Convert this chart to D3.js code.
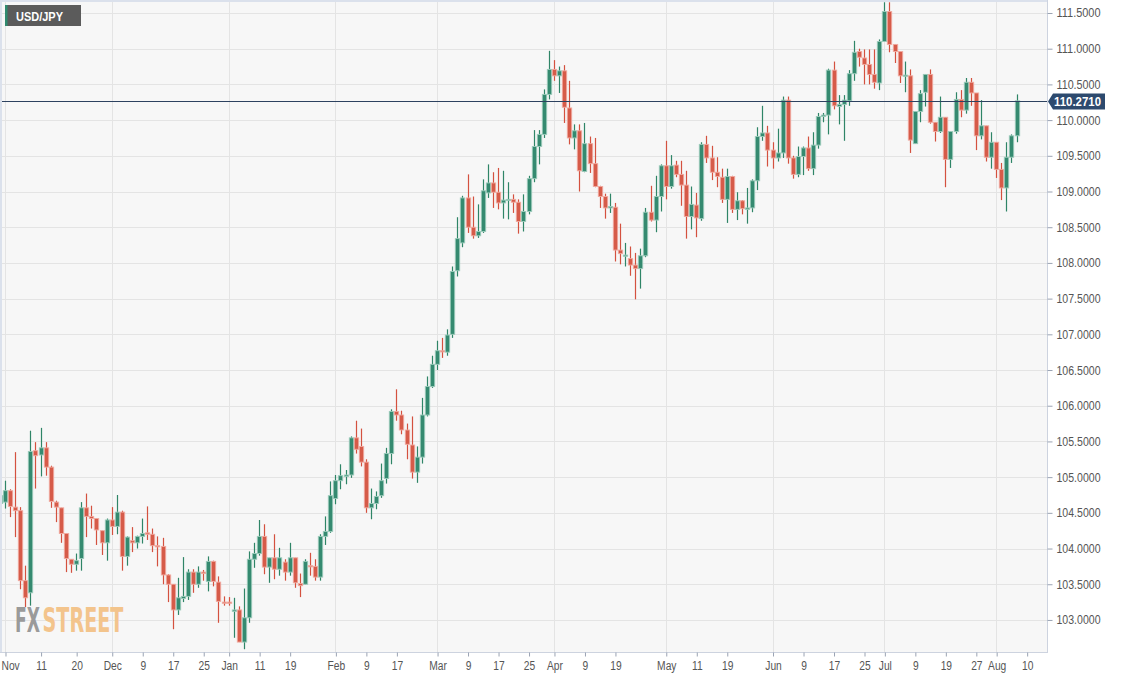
<!DOCTYPE html>
<html><head><meta charset="utf-8">
<script src="https://cdn.jsdelivr.net/npm/d3@7"></script>
<style>html,body{margin:0;padding:0;background:#fff;overflow:hidden}svg{display:block;font-family:"Liberation Sans",Arial,sans-serif}</style>
</head><body><svg id="c" width="1124" height="677"></svg>
<script>
// daily candles, trading-day index starting at firstIndex (-1 = 30 Oct 2020, 0 = 2 Nov 2020)
const firstIndex = -1;
const openV = [104.63,104.65,104.81,104.58,104.53,103.55,103.38,105.37,105.31,105.41,105.14,104.65,104.57,104.21,103.85,103.78,103.86,104.57,104.45,104.42,104.25,104.08,104.40,104.31,104.51,103.89,104.11,104.08,104.17,104.22,104.20,104.04,104.03,103.63,103.50,103.14,103.30,103.33,103.67,103.50,103.67,103.54,103.82,103.53,103.25,103.25,103.12,103.14,102.69,103.03,103.85,103.93,104.17,103.74,103.87,103.71,103.81,103.67,103.87,103.51,103.50,103.76,103.75,103.60,104.17,104.24,104.70,104.95,105.01,105.03,105.55,105.43,105.21,104.57,104.63,104.74,104.98,105.33,105.92,105.87,105.66,105.45,105.07,105.28,105.87,106.27,106.58,106.77,106.75,107.00,107.89,108.28,108.91,108.50,108.38,108.44,108.98,109.12,108.99,108.84,108.88,108.89,108.85,108.58,108.72,109.18,109.63,109.80,110.36,110.71,110.62,110.69,110.17,109.75,109.85,109.28,109.67,109.39,109.07,108.93,108.77,108.78,108.18,108.10,108.06,107.97,107.92,108.10,108.71,108.60,108.93,109.36,109.07,109.37,109.24,109.09,108.65,108.81,108.62,109.66,109.47,109.27,109.20,108.89,109.21,108.75,108.87,108.75,108.77,109.15,109.77,109.82,109.58,109.47,109.54,110.28,109.47,109.24,109.49,109.61,109.32,109.65,110.05,110.07,110.70,110.19,110.22,110.27,110.65,110.96,110.87,110.78,110.64,110.52,111.10,111.52,111.06,110.96,110.62,110.62,109.67,110.12,110.39,110.64,109.97,109.84,110.04,109.45,109.84,110.29,110.14,110.53,110.38,109.78,109.92,109.48,109.69,109.31,109.05,109.48,109.78];
const highV = [104.80,104.95,104.83,105.35,104.58,103.76,105.65,105.49,105.69,105.49,105.16,104.67,104.57,104.21,103.85,103.93,104.65,104.77,104.60,104.42,104.25,104.42,104.58,104.75,104.53,104.17,104.30,104.18,104.42,104.59,104.28,104.17,104.15,103.64,103.50,103.59,103.88,103.71,103.71,103.75,103.70,103.89,103.83,103.61,103.33,103.32,103.31,103.19,103.44,103.96,104.08,104.40,104.34,103.87,104.20,104.01,103.85,104.08,103.87,103.65,103.85,103.94,103.85,104.20,104.45,104.94,105.03,105.18,105.10,105.57,105.79,105.68,105.25,104.84,104.80,105.19,105.41,105.95,106.23,105.93,105.75,105.85,105.43,106.11,106.41,106.70,106.91,106.95,107.07,107.95,108.64,108.94,109.24,108.93,108.82,109.17,109.38,109.27,109.33,109.29,109.13,108.96,108.89,108.96,109.22,109.86,109.86,110.43,110.97,110.84,110.75,110.77,110.55,109.94,109.94,109.96,109.77,109.75,109.08,108.97,108.97,108.84,108.55,108.28,108.23,108.14,108.20,108.77,109.08,109.22,109.38,109.71,109.51,109.43,109.43,109.29,109.07,108.98,109.69,109.78,109.64,109.48,109.32,109.32,109.22,108.99,108.88,109.05,109.17,109.90,110.20,109.92,109.69,109.88,110.33,110.33,109.50,109.63,109.63,109.77,109.83,110.10,110.10,110.72,110.82,110.35,110.35,110.70,111.11,111.00,110.99,110.99,110.99,111.13,111.65,111.65,111.06,110.96,110.82,110.71,110.12,110.42,110.64,110.71,109.97,110.33,110.04,109.84,110.39,110.42,110.59,110.59,110.38,110.28,109.92,109.83,109.69,109.40,109.69,109.80,110.36];
const lowV = [104.14,104.56,104.44,104.16,103.43,103.18,103.20,104.84,105.01,105.02,104.57,104.37,104.08,103.67,103.66,103.69,103.69,104.16,104.28,104.05,103.91,103.83,104.19,104.20,103.69,103.76,103.95,104.00,104.07,104.12,103.95,103.75,103.50,103.25,102.87,103.07,103.25,103.28,103.38,103.45,103.55,103.40,103.47,102.96,103.20,103.20,102.75,102.69,102.59,102.96,103.73,103.90,103.64,103.52,103.57,103.62,103.55,103.62,103.45,103.32,103.50,103.62,103.55,103.55,104.05,104.22,104.62,104.83,104.90,104.99,105.33,105.15,104.50,104.41,104.55,104.71,104.91,105.18,105.79,105.60,105.25,104.98,104.92,105.19,105.85,106.25,106.50,106.67,106.70,106.95,107.81,108.22,108.42,108.34,108.35,108.42,108.91,108.77,108.75,108.62,108.61,108.70,108.41,108.44,108.68,109.13,109.38,109.75,110.29,110.55,110.38,109.96,109.66,109.59,109.00,109.27,109.26,109.06,108.77,108.62,108.70,108.02,107.98,107.95,107.82,107.49,107.64,108.08,108.58,108.43,108.72,108.89,109.04,109.20,108.80,108.34,108.47,108.36,108.59,109.40,109.16,109.06,108.84,108.56,108.70,108.60,108.68,108.55,108.71,109.02,109.71,109.35,109.32,109.42,109.47,109.39,109.18,109.20,109.23,109.29,109.23,109.60,109.97,109.80,110.15,109.94,109.71,110.20,110.55,110.75,110.50,110.50,110.44,110.42,111.10,110.95,110.80,110.52,110.39,109.54,109.67,109.97,110.19,109.95,109.70,109.82,109.06,109.33,109.81,110.04,110.09,110.20,109.58,109.73,109.42,109.32,109.19,108.88,108.72,109.40,109.69];
const closeV = [104.74,104.81,104.59,104.53,103.55,103.31,105.36,105.30,105.41,105.14,104.66,104.58,104.21,103.86,103.78,103.83,104.57,104.45,104.42,104.26,104.08,104.40,104.31,104.51,103.89,104.16,104.08,104.17,104.21,104.20,104.04,104.03,103.63,103.50,103.14,103.31,103.33,103.67,103.50,103.67,103.65,103.82,103.54,103.26,103.24,103.24,103.14,102.69,103.03,103.85,103.93,104.17,103.74,103.87,103.71,103.87,103.67,103.87,103.52,103.48,103.82,103.75,103.60,104.17,104.24,104.74,104.95,105.02,105.03,105.55,105.39,105.21,104.57,104.63,104.73,104.95,105.33,105.92,105.87,105.66,105.46,105.07,105.28,105.87,106.27,106.58,106.77,106.76,106.99,107.88,108.34,108.91,108.50,108.38,108.44,109.01,109.12,108.99,108.84,108.88,108.89,108.85,108.58,108.72,109.18,109.63,109.80,110.36,110.71,110.62,110.69,110.18,109.75,109.85,109.29,109.67,109.39,109.07,108.93,108.77,108.79,108.18,108.13,108.11,107.97,107.92,108.10,108.71,108.60,108.93,109.36,109.07,109.36,109.24,109.09,108.65,108.82,108.63,109.66,109.47,109.27,109.21,108.89,109.21,108.75,108.87,108.76,108.77,109.15,109.77,109.82,109.58,109.47,109.54,110.28,109.47,109.24,109.49,109.61,109.32,109.65,110.05,110.07,110.70,110.20,110.22,110.28,110.65,110.95,110.88,110.78,110.64,110.53,111.10,111.52,111.06,110.96,110.62,110.63,109.72,110.12,110.37,110.64,109.97,109.84,110.04,109.45,109.84,110.29,110.14,110.53,110.38,109.78,109.92,109.48,109.69,109.31,109.05,109.48,109.78,110.27];
const tickIndex = [0,7,14,21,27,33,39,44,50,56,65,71,77,85,91,97,103,108,114,120,130,136,142,151,157,163,169,173,179,185,191,195,201];
const tickLabels = ["Nov","11","20","Dec","9","17","25","Jan","11","19","Feb","9","17","Mar","9","17","25","Apr","9","19","May","11","19","Jun","9","17","25","Jul","9","19","27","Aug","10"];
const monthIndex = [0,21,44,65,85,108,130,151,173,195];
const priceTicks = [103,103.5,104,104.5,105,105.5,106,106.5,107,107.5,108,108.5,109,109.5,110,110.5,111,111.5];
const lastPrice = 110.271;
const symbol = "USD/JPY";

const W = 1124, H = 677;
const L = 2, R = 1047, T = 0, B = 652;
const svg = d3.select("#c");
const x = d3.scaleLinear().domain([-0.59, 205.0]).range([L, R]);
const y = d3.scaleLinear().domain([102.551, 111.682]).range([B, T]);

svg.append("rect").attr("width", W).attr("height", H).attr("fill", "#fff");
svg.append("rect").attr("x", L).attr("y", 2).attr("width", R - L).attr("height", B - 2).attr("fill", "#f7f7f7");
svg.append("defs").append("clipPath").attr("id", "clip")
  .append("rect").attr("x", 0).attr("y", 0).attr("width", R).attr("height", B);

// grid
const grid = svg.append("g");
grid.selectAll(".hg").data(priceTicks).join("line")
  .attr("x1", L).attr("x2", R)
  .attr("y1", d => Math.round(y(d)) + 0.5).attr("y2", d => Math.round(y(d)) + 0.5)
  .attr("stroke", "#e4e4e4").attr("stroke-width", 1);
grid.selectAll(".vg").data(monthIndex).join("line")
  .attr("y1", 2).attr("y2", B)
  .attr("x1", d => Math.round(x(d)) + 0.5).attr("x2", d => Math.round(x(d)) + 0.5)
  .attr("stroke", "#e4e4e4").attr("stroke-width", 1);

// watermark (each word scaled horizontally to its measured width)
const wmFont = "'DejaVu Sans Condensed','DejaVu Sans',sans-serif";
function wmWord(txt, x0, w, col) {
  const t = svg.append("text").attr("x", 0).attr("y", 0)
    .attr("font-family", wmFont).attr("font-weight", "bold").attr("font-size", 34)
    .attr("fill", col).text(txt);
  const nat = t.node().getComputedTextLength() || w;
  t.attr("transform", `translate(${x0},632) scale(${w / nat},1)`);
}
wmWord("FX", 15, 25, "#9a9a9a");
wmWord("STREET", 42.5, 81, "#f3c48c");

// candles
const data = openV.map((o, k) => ({i: k + firstIndex, o, h: highV[k], l: lowV[k], c: closeV[k]}));
const cg = svg.append("g").attr("clip-path", "url(#clip)");
const up = {fill: "#358a70", stroke: "#9ccbbb", wick: "#2f8567"};
const dn = {fill: "#d65b49", stroke: "#f0aaa0", wick: "#d4513f"};
const bw = 4.4;
const candle = cg.selectAll("g.c").data(data).join("g");
candle.append("line")
  .attr("x1", d => Math.round(x(d.i)) + 0.5).attr("x2", d => Math.round(x(d.i)) + 0.5)
  .attr("y1", d => y(d.h)).attr("y2", d => y(d.l))
  .attr("stroke", d => d.c >= d.o ? up.wick : dn.wick).attr("stroke-width", 1.2);
candle.append("rect")
  .attr("x", d => Math.round(x(d.i)) + 0.5 - bw / 2)
  .attr("width", bw)
  .attr("y", d => y(Math.max(d.o, d.c)))
  .attr("height", d => Math.max(1.2, Math.abs(y(d.o) - y(d.c))))
  .attr("fill", d => d.c >= d.o ? up.fill : dn.fill)
  .attr("stroke", d => d.c >= d.o ? up.stroke : dn.stroke)
  .attr("stroke-width", 0.9);

// frame
svg.append("line").attr("x1", 1).attr("x2", 1).attr("y1", 0).attr("y2", B).attr("stroke", "#dbe1ec").attr("stroke-width", 2);
svg.append("line").attr("x1", 0).attr("x2", R).attr("y1", 1).attr("y2", 1).attr("stroke", "#dbe1ec").attr("stroke-width", 2);
svg.append("line").attr("x1", R + 0.5).attr("x2", R + 0.5).attr("y1", 0).attr("y2", B + 1).attr("stroke", "#cdd3df");
svg.append("line").attr("x1", 0).attr("x2", R + 1).attr("y1", B + 0.5).attr("y2", B + 0.5).attr("stroke", "#cdd3df");

// axes
const yAxis = d3.axisRight(y).tickValues(priceTicks).tickSize(5).tickPadding(4).tickFormat(d3.format(".4f"));
const ya = svg.append("g").attr("transform", `translate(${R + 0.5},0)`).call(yAxis);
ya.select(".domain").remove();
ya.selectAll("line").attr("stroke", "#9aa3b3");
ya.selectAll("text").attr("fill", "#555").attr("font-size", 12.5)
  .attr("font-family", "'Liberation Sans',Arial,sans-serif")
  .attr("textLength", 44).attr("lengthAdjust", "spacingAndGlyphs");

const xAxis = d3.axisBottom(x).tickValues(tickIndex).tickSize(4).tickPadding(5)
  .tickFormat((d, k) => tickLabels[k]);
const xa = svg.append("g").attr("transform", `translate(0.5,${B + 0.5})`).call(xAxis);
xa.select(".domain").remove();
xa.selectAll("line").attr("stroke", "#9aa3b3");
xa.selectAll("text").attr("fill", "#555").attr("font-size", 12.5)
  .attr("font-family", "'Liberation Sans',Arial,sans-serif")
  .attr("transform", "scale(0.82,1)");
xa.selectAll(".tick").filter((d, k) => k === 0).select("text")
  .attr("text-anchor", "start").attr("x", -4.5 / 0.82);

// last price line and tag
const ly = Math.round(y(lastPrice)) + 0.5;
svg.append("line").attr("x1", L).attr("x2", R).attr("y1", ly).attr("y2", ly).attr("stroke", "#2d4260").attr("stroke-width", 1);
svg.append("path")
  .attr("d", `M${R + 1},${ly} L${R + 6},${ly - 8} L${R + 58},${ly - 8} L${R + 58},${ly + 8} L${R + 6},${ly + 8} Z`)
  .attr("fill", "#2d4a6e");
svg.append("text").attr("x", R + 7).attr("y", ly + 4.5)
  .attr("fill", "#fff").attr("font-weight", "bold").attr("font-size", 12.5)
  .attr("textLength", 47).attr("lengthAdjust", "spacingAndGlyphs")
  .text(d3.format(".4f")(lastPrice));

// symbol tag
svg.append("rect").attr("x", 5).attr("y", 5).attr("width", 76).attr("height", 21).attr("fill", "#5b5b5b");
svg.append("rect").attr("x", 5).attr("y", 5).attr("width", 2.5).attr("height", 21).attr("fill", "#2f8a6e");
svg.append("text").attr("x", 16).attr("y", 20.5).attr("fill", "#fff").attr("font-weight", "bold")
  .attr("font-size", 13).attr("textLength", 47).attr("lengthAdjust", "spacingAndGlyphs").text(symbol);
</script></body></html>
